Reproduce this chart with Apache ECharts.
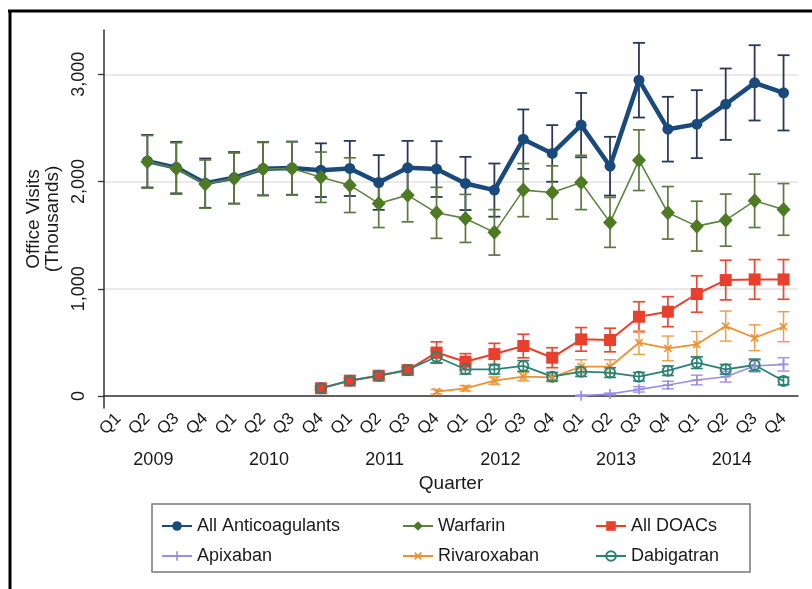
<!DOCTYPE html>
<html>
<head>
<meta charset="utf-8">
<script src="https://cdn.jsdelivr.net/npm/echarts@6/dist/echarts.min.js"></script>
<style>
  html, body { margin: 0; padding: 0; background: #fff; }
  #chart { width: 812px; height: 589px; }
</style>
</head>
<body>
<div id="chart"></div>
<script>
// quarters and years on the x axis
const years = ['2009', '2010', '2011', '2012', '2013', '2014'];
const quarterNames = ['Q1', 'Q2', 'Q3', 'Q4'];
const yTicks = [0, 1000, 2000, 3000];

// office visits (thousands), one value per quarter, Q1 2009 .. Q4 2014
const allAnti = [null, 2190, 2130, 1985, 2035, 2120, 2125, 2106, 2122, 1991, 2128, 2116, 1982, 1920, 2395, 2262, 2526, 2143, 2945, 2488, 2535, 2721, 2920, 2827];
const allAntiErr = [null, 245, 240, 230, 240, 248, 248, 250, 257, 255, 251, 260, 248, 248, 277, 264, 300, 274, 348, 302, 317, 333, 351, 351];
const warfarin = [null, 2184, 2122, 1976, 2029, 2116, 2122, 2040, 1966, 1796, 1873, 1708, 1656, 1526, 1920, 1898, 1991, 1619, 2199, 1708, 1584, 1640, 1820, 1740];
const warfarinErr = [null, 245, 240, 225, 237, 248, 248, 235, 255, 225, 249, 238, 224, 212, 248, 248, 253, 233, 283, 245, 232, 243, 249, 241];
const allDoacs = [null, null, null, null, null, null, null, 72, 143, 189, 242, 405, 320, 391, 466, 357, 528, 522, 739, 786, 951, 1081, 1087, 1087];
const allDoacsErr = [null, null, null, null, null, null, null, 15, 20, 25, 30, 100, 75, 100, 110, 93, 110, 110, 140, 140, 170, 185, 185, 185];
const apixaban = [null, null, null, null, null, null, null, null, null, null, null, null, null, null, null, null, 3, 19, 62, 102, 149, 180, 280, 295];
const apixabanErr = [null, null, null, null, null, null, null, null, null, null, null, null, null, null, null, null, 5, 8, 25, 35, 45, 50, 55, 62];
const rivaroxaban = [null, null, null, null, null, null, null, null, null, null, null, 40, 72, 143, 180, 174, 273, 273, 497, 444, 481, 652, 543, 646];
const rivaroxabanErr = [null, null, null, null, null, null, null, null, null, null, null, 20, 25, 35, 40, 40, 65, 65, 110, 115, 120, 140, 120, 140];
const dabigatran = [null, null, null, null, null, null, null, 72, 143, 189, 242, 366, 249, 249, 280, 180, 227, 218, 180, 236, 311, 249, 289, 140];
const dabigatranErr = [null, null, null, null, null, null, null, 15, 20, 25, 30, 55, 45, 45, 50, 40, 45, 45, 40, 45, 55, 45, 55, 35];

const categories = [];
years.forEach(y => quarterNames.forEach(q => categories.push(y + ' ' + q)));

const FONT = 'Liberation Sans';
const plusPath = 'path://M-1,-6H1V-1H6V1H1V6H-1V1H-6V-1H-1Z';

function errData(vals, errs) {
	const out = [];
	vals.forEach((v, i) => {
		if (v != null) out.push([i, v - errs[i], v + errs[i]]);
	});
	return out;
}

function errSeries(name, vals, errs, color, width) {
	return {
		name: name + ' CI',
		type: 'custom',
		data: errData(vals, errs),
		encode: { x: 0, y: [1, 2] },
		silent: true,
		renderItem(params, api) {
			const x = api.value(0);
			const lo = api.coord([x, api.value(1)]);
			const hi = api.coord([x, api.value(2)]);
			const w = 6;
			const style = { stroke: color, lineWidth: width || 1.6, fill: null };
			return {
				type: 'group',
				children: [
					{ type: 'line', shape: { x1: lo[0], y1: lo[1], x2: hi[0], y2: hi[1] }, style },
					{ type: 'line', shape: { x1: lo[0] - w, y1: lo[1], x2: lo[0] + w, y2: lo[1] }, style },
					{ type: 'line', shape: { x1: hi[0] - w, y1: hi[1], x2: hi[0] + w, y2: hi[1] }, style }
				]
			};
		}
	};
}

function lineSeries(name, vals, color, symbol, size, lineWidth, extra) {
	return Object.assign({
		name: name,
		type: 'line',
		data: vals,
		symbol: symbol,
		symbolSize: size,
		showAllSymbol: true,
		lineStyle: { color: color, width: lineWidth },
		itemStyle: { color: color }
	}, extra || {});
}

const myChart = echarts.init(document.getElementById('chart'), null, { renderer: 'canvas' });

const legendText = { fontFamily: FONT, fontSize: 18, color: '#1a1a1a', lineHeight: 18 };
const legendCommon = {
	orient: 'vertical',
	top: 517,
	itemWidth: 30,
	itemHeight: 12,
	itemGap: 12,
	padding: 0,
	selectedMode: false,
	textStyle: legendText
};

const option = {
	animation: false,
	backgroundColor: '#fff',
	textStyle: { fontFamily: FONT },
	grid: { left: 104, right: 14, top: 30, bottom: 181 },
	legend: [
		Object.assign({}, legendCommon, { left: 161, data: ['All Anticoagulants', 'Apixaban'] }),
		Object.assign({}, legendCommon, { left: 402, data: ['Warfarin', 'Rivaroxaban'] }),
		Object.assign({}, legendCommon, { left: 595, data: ['All DOACs', 'Dabigatran'] })
	],
	xAxis: [{
		type: 'category',
		data: categories,
		boundaryGap: true,
		axisLine: { lineStyle: { color: '#333', width: 1.5 } },
		axisTick: { alignWithLabel: true, length: 6, lineStyle: { color: '#333', width: 1.3 } },
		axisLabel: {
			interval: 0,
			rotate: 45,
			margin: 8,
			fontFamily: FONT,
			fontSize: 17,
			color: '#1a1a1a',
			formatter: v => v.split(' ')[1]
		},
		splitLine: { show: false }
	}, {
		type: 'category',
		data: categories,
		position: 'bottom',
		offset: 35,
		boundaryGap: true,
		axisLine: { show: false },
		axisTick: { show: false },
		axisLabel: {
			interval: 0,
			margin: 8,
			fontFamily: FONT,
			fontSize: 18,
			color: '#1a1a1a',
			padding: [0, 0, 0, 12],
			formatter: (v, i) => (i % 4 === 1 ? v.split(' ')[0] : '')
		},
		name: 'Quarter',
		nameLocation: 'middle',
		nameGap: 30,
		nameTextStyle: { fontFamily: FONT, fontSize: 19, color: '#1a1a1a' }
	}],
	yAxis: {
		type: 'value',
		min: -112,
		max: 3413,
		name: 'Office Visits\n(Thousands)',
		nameLocation: 'middle',
		nameRotate: 90,
		nameGap: 34,
		nameTextStyle: { fontFamily: FONT, fontSize: 19, color: '#1a1a1a', lineHeight: 19, align: 'center' },
		axisLine: { show: true, lineStyle: { color: '#333', width: 1.5 } },
		axisTick: { show: true, length: 6, customValues: yTicks, lineStyle: { color: '#333', width: 1.3 } },
		axisLabel: {
			rotate: 90,
			margin: 16,
			fontFamily: FONT,
			fontSize: 18,
			color: '#1a1a1a',
			customValues: yTicks,
			formatter: v => v.toLocaleString('en-US')
		},
		splitLine: { show: true, lineStyle: { color: '#e9e9e9', width: 2 } }
	},
	series: [
		errSeries('All Anticoagulants', allAnti, allAntiErr, '#2b3956', 1.8),
		lineSeries('All Anticoagulants', allAnti, '#1a4a7c', 'circle', 11, 4.5),
		errSeries('Warfarin', warfarin, warfarinErr, '#5c7a40', 1.7),
		lineSeries('Warfarin', warfarin, '#4e7a24', 'diamond', [14, 15], 1.6, { lineStyle: { color: '#5e8440', width: 1.6 } }),
		errSeries('All DOACs', allDoacs, allDoacsErr, '#e84a37', 1.7),
		lineSeries('All DOACs', allDoacs, '#e8402c', 'rect', 12, 2),
		errSeries('Apixaban', apixaban, apixabanErr, '#a597ea', 1.5),
		lineSeries('Apixaban', apixaban, '#9b8ce6', plusPath, 10, 1.6),
		errSeries('Rivaroxaban', rivaroxaban, rivaroxabanErr, '#f0a04c', 1.5),
		lineSeries('Rivaroxaban', rivaroxaban, '#ee9133', plusPath, 10, 1.8, { symbolRotate: 45 }),
		errSeries('Dabigatran', dabigatran, dabigatranErr, '#2c8676', 1.6),
		lineSeries('Dabigatran', dabigatran, '#2a8272', 'circle', 10, 1.8, { itemStyle: { color: 'rgba(0,0,0,0)', borderColor: '#2a8272', borderWidth: 2 } })
	],
	graphic: [
		{ type: 'line', silent: true, shape: { x1: 8, y1: 11, x2: 812, y2: 11 }, style: { stroke: '#000', lineWidth: 3 } },
		{ type: 'line', silent: true, shape: { x1: 10, y1: 10, x2: 10, y2: 589 }, style: { stroke: '#000', lineWidth: 3 } },
		{ type: 'rect', silent: true, shape: { x: 152, y: 504, width: 598, height: 68 }, style: { stroke: '#777', lineWidth: 1.5, fill: null } }
	]
};

myChart.setOption(option);
</script>
</body>
</html>
